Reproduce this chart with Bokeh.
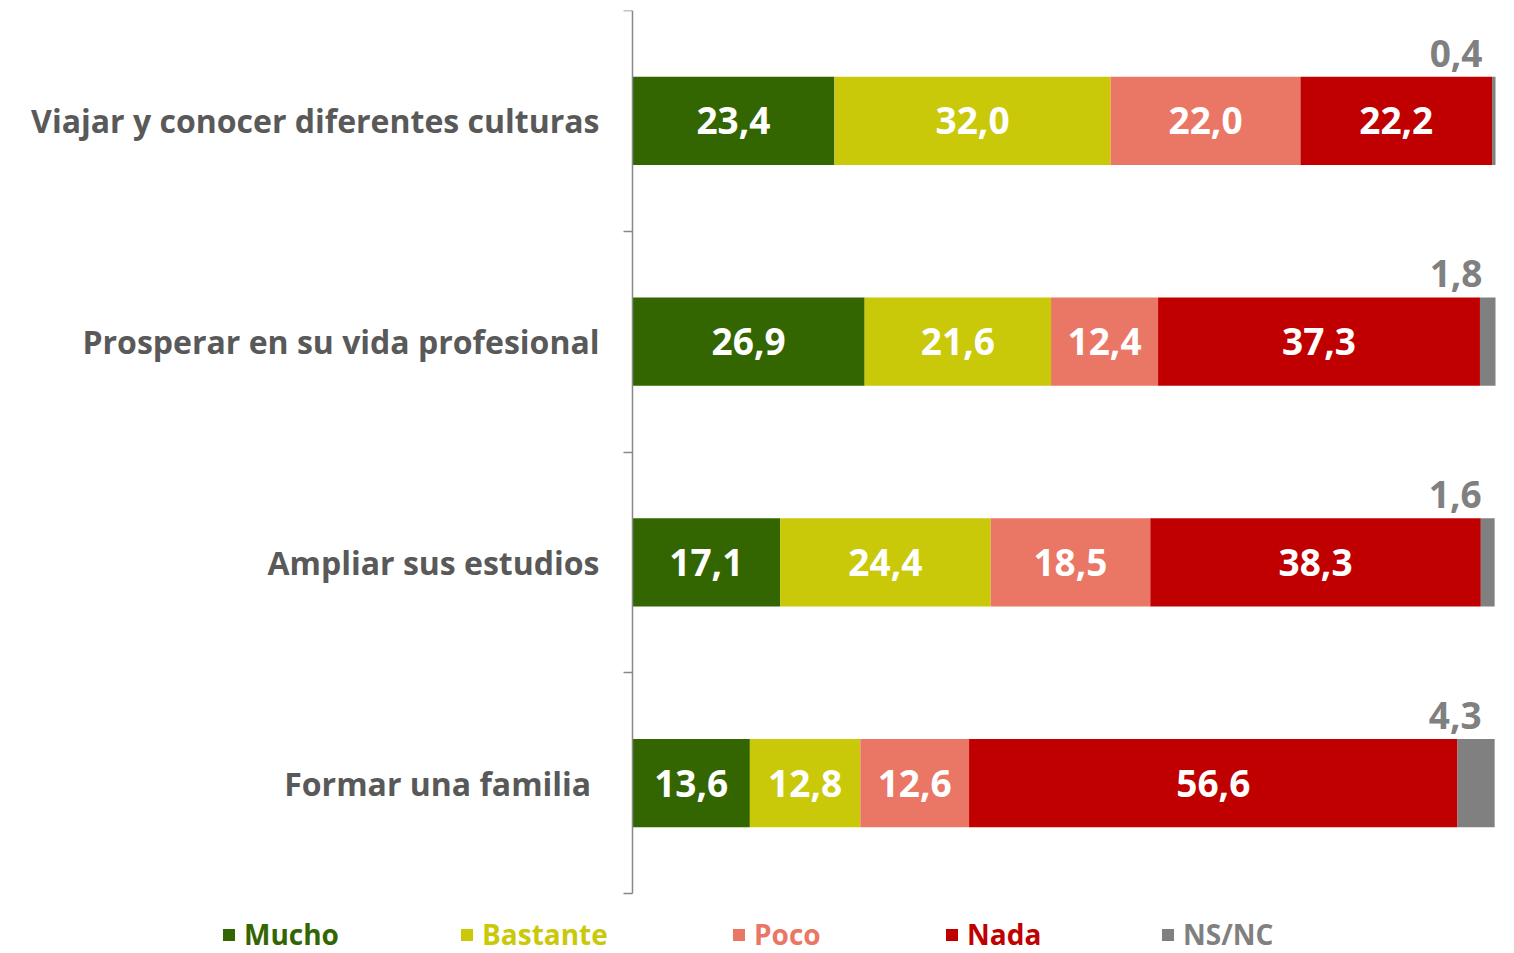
import numpy as np
from bokeh.plotting import figure
from bokeh.models import (ColumnDataSource, Range1d, FixedTicker, Legend, LegendItem, LinearAxis)
from bokeh.core.properties import value
from bokeh.embed import file_html
from bokeh.resources import INLINE

categories = ["Viajar y conocer diferentes culturas", "Prosperar en su vida profesional",
              "Ampliar sus estudios", "Formar una familia "]
series = ["Mucho", "Bastante", "Poco", "Nada", "NS/NC"]
mucho = [23.4, 26.9, 17.1, 13.6]
bastante = [32.0, 21.6, 24.4, 12.8]
poco = [22.0, 12.4, 18.5, 12.6]
nada = [22.2, 37.3, 38.3, 56.6]
nsnc = [0.4, 1.8, 1.6, 4.3]
colors = ["#336600", "#C9C90A", "#EA7665", "#C00000", "#808080"]

FONT = "Open Sans"
n = len(categories)
ypos = np.array([n - 0.5 - i for i in range(n)])

# The frame spans the whole canvas; the value axis sits at x=0 (fixed_location)
# so that the category labels and the legend row are drawn inside the frame.
p = figure(width=1510, height=953, output_backend="svg", toolbar_location=None,
           x_range=Range1d(-73.233, 101.738), y_range=Range1d(-0.2718, n),
           x_axis_location=None, y_axis_location=None,
           min_border_left=0, min_border_right=0, min_border_top=10, min_border_bottom=0)
p.outline_line_color = None
p.xgrid.visible = False
p.ygrid.visible = False

yax = LinearAxis(fixed_location=0, bounds=(0, n))
yax.ticker = FixedTicker(ticks=list(ypos), minor_ticks=list(range(n + 1)))
yax.major_label_overrides = {float(y): c for y, c in zip(ypos, categories)}
yax.major_tick_line_color = None
yax.major_tick_out = 0
yax.major_tick_in = 0
yax.minor_tick_line_color = "#888888"
yax.minor_tick_line_width = 1.5
yax.minor_tick_out = 9
yax.minor_tick_in = 0
yax.axis_line_color = "#888888"
yax.axis_line_width = 1.5
yax.major_label_standoff = 24
yax.major_label_text_font = FONT
yax.major_label_text_font_style = "bold"
yax.major_label_text_font_size = "32px"
yax.major_label_text_color = "#595959"
p.add_layout(yax, "left")

vals = [mucho, bastante, poco, nada, nsnc]
arr = np.array(vals, dtype=float)
cum = np.cumsum(arr, axis=0)
lefts = cum - arr

renderers = []
for i, name in enumerate(series):
    src = ColumnDataSource(dict(y=ypos, left=lefts[i], right=cum[i],
                                mid=(lefts[i] + cum[i]) / 2,
                                lab=[f"{v:.1f}".replace(".", ",") for v in arr[i]]))
    r = p.hbar(y="y", left="left", right="right", height=0.4, source=src,
               fill_color=colors[i], line_color=None)
    renderers.append(r)
    if name != "NS/NC":
        p.text(x="mid", y="y", text="lab", source=src, text_align="center",
               text_baseline="middle", text_color="white", text_font=value(FONT),
               text_font_style="bold", text_font_size="37px")
    else:
        src.data["top"] = ypos + 0.2
        src.data["xr"] = cum[i]
        p.text(x="xr", y="top", text="lab", source=src, text_align="right",
               text_baseline="bottom", text_color="#808080", text_font=value(FONT),
               text_font_style="bold", text_font_size="37px", y_offset=-10, x_offset=-13)

leg_x = [221, 459, 731, 944, 1160]
for i, name in enumerate(series):
    lg = Legend(items=[LegendItem(label=name, renderers=[renderers[i]])],
                location=(leg_x[i], 0), label_text_color=colors[i],
                label_text_font=FONT, label_text_font_size="28px",
                label_text_font_style="bold", label_text_line_height=1.0,
                glyph_width=15, glyph_height=15, padding=0, margin=0, spacing=0,
                label_standoff=8, border_line_color=None, background_fill_alpha=0)
    p.add_layout(lg, "center")

open("out.html", "w").write(file_html(p, INLINE))
